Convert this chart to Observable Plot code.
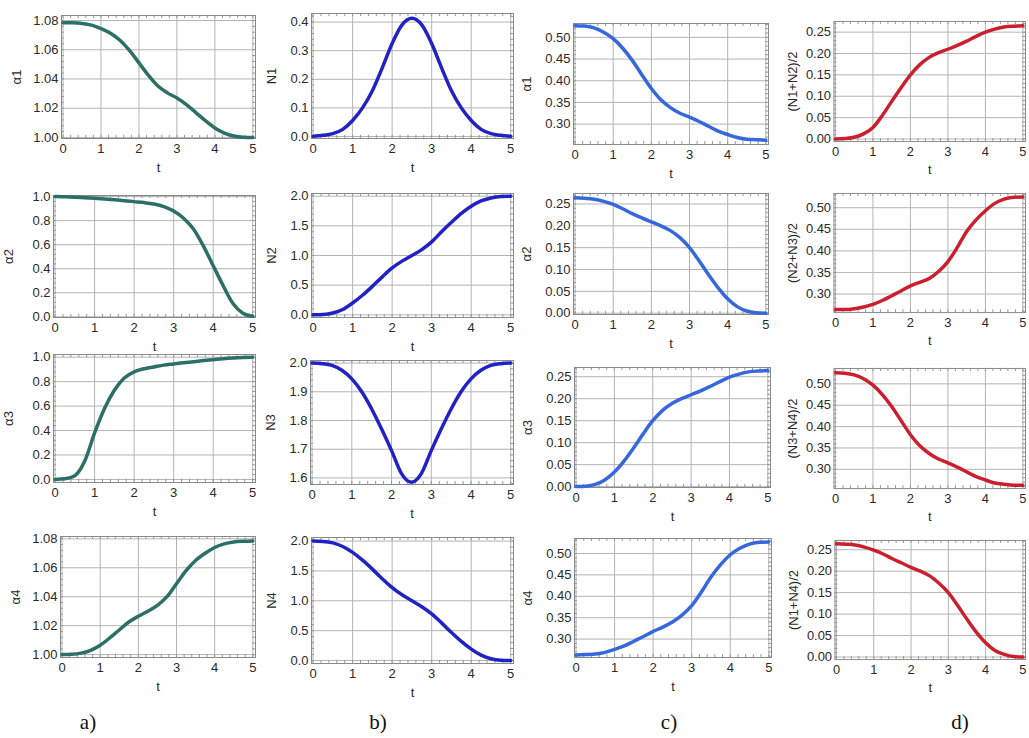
<!DOCTYPE html>
<html><head><meta charset="utf-8">
<script src="https://cdn.jsdelivr.net/npm/d3@7"></script>
<script src="https://cdn.jsdelivr.net/npm/@observablehq/plot@0.6"></script>
<style>
body{margin:0;background:#fff;}
#root{position:relative;width:1029px;height:738px;overflow:hidden;background:#fff;}
.panel{position:absolute;}
.tag{position:absolute;font-family:"Liberation Serif","Times New Roman",serif;font-size:21px;color:#111;transform:translate(-50%,-50%);white-space:nowrap;}
</style></head><body><div id="root"></div><script>
// ---- data ----
const times = [0,0.25,0.5,0.75,1,1.25,1.5,1.75,2,2.25,2.5,2.75,3,3.25,3.5,3.75,4,4.25,4.5,4.75,5];
const xTicks = [0,1,2,3,4,5];

const alphaA1 = [1.0785,1.0784,1.0780,1.0768,1.0745,1.0713,1.0665,1.0595,1.0510,1.0425,1.0352,1.0305,1.0270,1.0225,1.0170,1.0115,1.0065,1.0030,1.0010,1.0002,1.0000];
const alphaA2 = [1.000,0.998,0.995,0.991,0.986,0.980,0.973,0.966,0.958,0.950,0.938,0.917,0.880,0.820,0.730,0.590,0.425,0.260,0.110,0.030,0.005];
const alphaA3 = [0.000,0.005,0.030,0.150,0.380,0.580,0.730,0.830,0.880,0.905,0.920,0.935,0.945,0.955,0.963,0.972,0.980,0.988,0.994,0.998,1.000];
const alphaA4 = [1.0000,1.0002,1.0010,1.0030,1.0065,1.0115,1.0170,1.0225,1.0265,1.0300,1.0340,1.0400,1.0490,1.0580,1.0650,1.0700,1.0740,1.0765,1.0778,1.0783,1.0785];

const N1 = [0.001,0.004,0.010,0.025,0.056,0.100,0.160,0.240,0.325,0.390,0.413,0.390,0.325,0.240,0.160,0.100,0.056,0.025,0.010,0.004,0.001];
const N2 = [0.000,0.005,0.030,0.090,0.200,0.330,0.480,0.640,0.790,0.905,1.000,1.100,1.230,1.400,1.560,1.710,1.830,1.920,1.970,1.995,2.000];
const N3 = [2.000,1.998,1.992,1.975,1.945,1.900,1.840,1.770,1.695,1.615,1.585,1.615,1.695,1.770,1.840,1.900,1.945,1.975,1.992,1.998,2.000];
const N4 = [2.000,1.995,1.970,1.910,1.810,1.680,1.530,1.370,1.220,1.100,1.000,0.900,0.780,0.630,0.470,0.320,0.190,0.090,0.030,0.005,0.000];

const alphaC1 = [0.527,0.526,0.522,0.512,0.497,0.475,0.447,0.414,0.382,0.356,0.338,0.325,0.316,0.306,0.295,0.284,0.276,0.269,0.265,0.264,0.263];
const alphaC2 = [0.264,0.263,0.261,0.256,0.249,0.239,0.228,0.218,0.209,0.200,0.189,0.173,0.150,0.120,0.088,0.058,0.033,0.015,0.005,0.001,0.000];
const alphaC3 = [0.000,0.001,0.005,0.015,0.033,0.058,0.088,0.120,0.150,0.173,0.189,0.200,0.209,0.218,0.228,0.239,0.249,0.256,0.261,0.263,0.264];
const alphaC4 = [0.263,0.264,0.265,0.269,0.276,0.284,0.295,0.306,0.318,0.328,0.340,0.356,0.378,0.410,0.445,0.474,0.497,0.512,0.522,0.526,0.527];

const avgN12 = [0.000,0.001,0.004,0.012,0.027,0.055,0.088,0.120,0.150,0.174,0.191,0.202,0.210,0.219,0.229,0.240,0.250,0.257,0.262,0.264,0.265];
const avgN23 = [0.264,0.264,0.266,0.270,0.276,0.285,0.296,0.307,0.319,0.327,0.336,0.352,0.375,0.408,0.445,0.472,0.493,0.510,0.520,0.524,0.525];
const avgN34 = [0.526,0.525,0.521,0.512,0.497,0.475,0.447,0.414,0.381,0.355,0.337,0.324,0.315,0.305,0.294,0.283,0.275,0.268,0.265,0.263,0.263];
const avgN14 = [0.264,0.263,0.261,0.256,0.249,0.240,0.229,0.219,0.209,0.200,0.189,0.172,0.150,0.120,0.088,0.058,0.033,0.015,0.006,0.001,0.000];

const ticks108 = [1.00,1.02,1.04,1.06,1.08];
const ticks01 = [0,0.2,0.4,0.6,0.8,1.0];
const ticksN1 = [0,0.1,0.2,0.3,0.4];
const ticks02 = [0,0.5,1.0,1.5,2.0];
const ticksN3 = [1.6,1.7,1.8,1.9,2.0];
const ticks05 = [0.30,0.35,0.40,0.45,0.50];
const ticks025 = [0,0.05,0.10,0.15,0.20,0.25];

const colLabels = ["a)","b)","c)","d)"];

// ---- panel specs ----
const colors = ["#2c6f66","#2222c4","#3668dc","#cc1f2e"];
const panels = [
  {col:0, v:alphaA1, label:"α1", yd:[0.9993,1.0834], yt:ticks108, f:".2f"},
  {col:0, v:alphaA2, label:"α2", yd:[-0.006,1.009], yt:ticks01, f:".1f"},
  {col:0, v:alphaA3, label:"α3", yd:[-0.025,1.022], yt:ticks01, f:".1f"},
  {col:0, v:alphaA4, label:"α4", yd:[0.998,1.0816], yt:ticks108, f:".2f"},
  {col:1, v:N1, label:"N1", yd:[-0.007,0.43], yt:ticksN1, f:".1f"},
  {col:1, v:N2, label:"N2", yd:[-0.045,2.045], yt:ticks02, f:".1f"},
  {col:1, v:N3, label:"N3", yd:[1.577,2.009], yt:ticksN3, f:".1f"},
  {col:1, v:N4, label:"N4", yd:[-0.05,2.06], yt:ticks02, f:".1f"},
  {col:2, v:alphaC1, label:"α1", yd:[0.253,0.532], yt:ticks05, f:".2f"},
  {col:2, v:alphaC2, label:"α2", yd:[-0.003,0.274], yt:ticks025, f:".2f"},
  {col:2, v:alphaC3, label:"α3", yd:[-0.002,0.271], yt:ticks025, f:".2f"},
  {col:2, v:alphaC4, label:"α4", yd:[0.257,0.535], yt:ticks05, f:".2f"},
  {col:3, v:avgN12, label:"(N1+N2)/2", yd:[-0.006,0.275], yt:ticks025, f:".2f"},
  {col:3, v:avgN23, label:"(N2+N3)/2", yd:[0.257,0.533], yt:ticks05, f:".2f"},
  {col:3, v:avgN34, label:"(N3+N4)/2", yd:[0.255,0.536], yt:ticks05, f:".2f"},
  {col:3, v:avgN14, label:"(N1+N4)/2", yd:[-0.006,0.2716], yt:ticks025, f:".2f"}
];

// ---- layout (frame boxes: left, top, right, bottom) ----
const frames = [
  [61,15,255,138],[53,195,255,317],[53,354,255,482],[60,536,255,657],
  [311,13,513,138],[311,193,513,317],[310,360,513,484],[311,537,513,663],
  [573,23,768,144],[573,193,768,314],[574,367,770,487],[574,538,771,657],
  [834,21,1027,142],[834,193,1027,313],[834,368,1027,489],[835,540,1027,660]
];
const labelOffsets = [50,45,52,46];
const tagPos = [[88,722],[378,722],[669,722],[960,722]];

const root = document.getElementById("root");
const ML = 72, MR = 4, MT = 4, MB = 48;
const xd = [-0.04, 5.07];
const FS = 13;

panels.forEach((p, i) => {
  const [l, t, r, b] = frames[i];
  const data = times.map((tt, k) => ({t: tt, v: p.v[k]}));
  const step = p.yt[1] - p.yt[0];
  const yMinor = d3.range(Math.round(p.yd[0] / (step/5)), Math.round(p.yd[1] / (step/5)) + 1)
    .map(k => k * step / 5).filter(y => y >= p.yd[0] && y <= p.yd[1]);
  const xMinor = d3.range(0, 26).map(k => k * 0.2);
  const ty = (p.yd[1] - p.yd[0]) * 0.025;
  const tx = (xd[1] - xd[0]) * 0.015;
  const plot = Plot.plot({
    width: (r - l) + ML + MR,
    height: (b - t) + MT + MB,
    marginLeft: ML, marginRight: MR, marginTop: MT, marginBottom: MB,
    style: {background: "transparent", fontFamily: "'Liberation Sans', Arial, sans-serif", fontSize: FS + "px", color: "#2a2a2a", overflow: "visible"},
    x: {domain: xd},
    y: {domain: p.yd},
    marks: [
      Plot.gridX(xTicks, {stroke: "#b4b4b4", strokeOpacity: 1}),
      Plot.gridY(p.yt, {stroke: "#b4b4b4", strokeOpacity: 1}),
      Plot.ruleX(xMinor, {y1: p.yd[0], y2: p.yd[0] + ty, stroke: "#999"}),
      Plot.ruleX(xMinor, {y1: p.yd[1], y2: p.yd[1] - ty, stroke: "#999"}),
      Plot.ruleY(yMinor, {x1: xd[0], x2: xd[0] + tx, stroke: "#999"}),
      Plot.ruleY(yMinor, {x1: xd[1], x2: xd[1] - tx, stroke: "#999"}),
      Plot.frame({stroke: "#8a8a8a"}),
      Plot.axisX({ticks: xTicks, tickSize: 0, tickPadding: 5, tickFormat: d3.format("d"), fontSize: FS,
        label: "t", labelAnchor: "center", labelArrow: "none", labelOffset: 33}),
      Plot.axisY({ticks: p.yt, tickSize: 0, tickPadding: 3, tickFormat: d3.format(p.f), fontSize: FS,
        label: p.label, labelAnchor: "center", labelArrow: "none", labelOffset: labelOffsets[p.col]}),
      Plot.line(data, {x: "t", y: "v", stroke: colors[p.col], strokeWidth: 3.5, curve: "monotone-x"})
    ]
  });
  const div = document.createElement("div");
  div.className = "panel";
  div.style.left = (l - ML) + "px";
  div.style.top = (t - MT) + "px";
  div.appendChild(plot);
  root.appendChild(div);
});

colLabels.forEach((s, i) => {
  const d = document.createElement("div");
  d.className = "tag";
  d.textContent = s;
  d.style.left = tagPos[i][0] + "px";
  d.style.top = tagPos[i][1] + "px";
  root.appendChild(d);
});
</script></body></html>
